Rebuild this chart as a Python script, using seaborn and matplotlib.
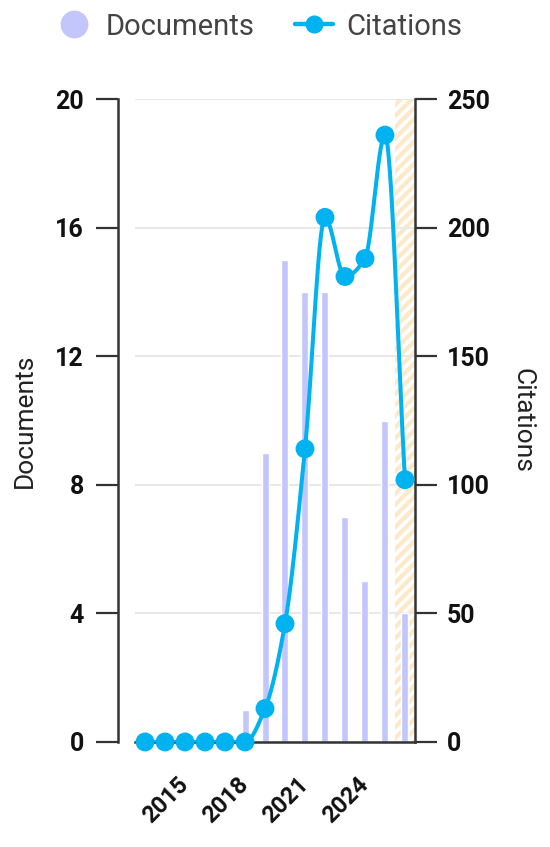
"""Documents and citations per year, bars + smoothed line on twin axes."""

import numpy as np
import pandas as pd
import matplotlib
matplotlib.use('Agg')
import matplotlib.pyplot as plt
from matplotlib.lines import Line2D
import seaborn as sns

years = [2013, 2014, 2015, 2016, 2017, 2018, 2019, 2020, 2021, 2022, 2023, 2024, 2025, 2026]
documents = [0, 0, 0, 0, 0, 1, 9, 15, 14, 14, 7, 5, 10, 4]
citations = [0, 0, 0, 0, 0, 0, 13, 46, 114, 204, 181, 188, 236, 102]
xtick_years = [2015, 2018, 2021, 2024]
doc_ticks = [0, 4, 8, 12, 16, 20]
cit_ticks = [0, 50, 100, 150, 200, 250]
partial_year = 2026

BAR_COLOR = '#c3c6fb'
LINE_COLOR = '#00b3f0'
AXIS_COLOR = '#333333'
HATCH_COLOR = '#fde9c8'
TEXT_COLOR = '#111111'


def monotone_curve(x, y, n=30):
    """Monotone cubic (Fritsch-Carlson) path through the points, for drawing."""
    x = np.asarray(x, float)
    y = np.asarray(y, float)
    h = np.diff(x)
    d = np.diff(y) / h
    m = np.zeros_like(y)
    m[0], m[-1] = d[0], d[-1]
    for i in range(1, len(y) - 1):
        if d[i - 1] * d[i] > 0:
            m[i] = 2 / (1 / d[i - 1] + 1 / d[i])
    xs, ys = [], []
    for i in range(len(x) - 1):
        t = np.linspace(0, 1, n)
        h00 = 2 * t**3 - 3 * t**2 + 1
        h10 = t**3 - 2 * t**2 + t
        h01 = -2 * t**3 + 3 * t**2
        h11 = t**3 - t**2
        xs.append(x[i] + t * h[i])
        ys.append(h00 * y[i] + h10 * h[i] * m[i] + h01 * y[i + 1] + h11 * h[i] * m[i + 1])
    return np.concatenate(xs), np.concatenate(ys)


df = pd.DataFrame({'year': years, 'documents': documents, 'citations': citations})

sns.set_style('white')
plt.rcParams['font.family'] = ['Roboto', 'DejaVu Sans']
plt.rcParams['hatch.linewidth'] = 3.0
plt.rcParams['hatch.color'] = HATCH_COLOR

fig = plt.figure(figsize=(5.5, 8.47), dpi=100)
ax = fig.add_axes([0.2455, 0.124, 0.509, 0.759])
ax2 = ax.twinx()

# spines first: moving a spine resets the tick labels
for side in ['top', 'right']:
    ax.spines[side].set_visible(False)
ax.spines['left'].set_position(('outward', 12))
ax.spines['left'].set_color(AXIS_COLOR)
ax.spines['left'].set_linewidth(1.8)
ax.spines['bottom'].set_color(AXIS_COLOR)
ax.spines['bottom'].set_linewidth(1.8)
for side in ['top', 'left', 'bottom']:
    ax2.spines[side].set_visible(False)
ax2.spines['right'].set_color(AXIS_COLOR)
ax2.spines['right'].set_linewidth(1.8)

# current (incomplete) year shading
ax.axvspan(partial_year - 0.5, partial_year + 0.5, facecolor='none',
           hatch='///', edgecolor=HATCH_COLOR, linewidth=0, zorder=0)

sns.barplot(data=df, x='year', y='documents', native_scale=True, width=0.35,
            color=BAR_COLOR, saturation=1, ax=ax, zorder=2)

cx, cy = monotone_curve(years, citations)
ax2.plot(cx, cy, color=LINE_COLOR, linewidth=2.9, zorder=3)
sns.scatterplot(data=df, x='year', y='citations', color=LINE_COLOR, s=185,
                edgecolor='none', ax=ax2, zorder=4, clip_on=False)

ax.set_xlim(years[0] - 0.5, years[-1] + 0.5)
ax.set_ylim(0, 20)
ax2.set_ylim(0, 250)
ax.yaxis.grid(True, color='#e8e8e8', linewidth=1.5, zorder=0)
ax.set_axisbelow(True)

ax.tick_params(axis='x', length=0, pad=28, labelcolor=TEXT_COLOR)
ax.tick_params(axis='y', length=16, width=1.6, color=AXIS_COLOR, pad=9,
               labelsize=18, labelcolor=TEXT_COLOR)
ax2.tick_params(axis='y', length=16, width=1.6, color=AXIS_COLOR, pad=7,
                labelsize=18, labelcolor=TEXT_COLOR)
ax.set_xticks(xtick_years, labels=[str(y) for y in xtick_years], rotation=45,
              ha='right', va='center', rotation_mode='anchor', fontsize=17,
              fontweight='bold')
ax.set_yticks(doc_ticks, labels=[str(t) for t in doc_ticks],
              fontweight='bold', fontsize=18)
ax2.set_yticks(cit_ticks, labels=[str(t) for t in cit_ticks],
               fontweight='bold', fontsize=18)

ax.set_xlabel('')
ax2.set_xlabel('')
ax.set_ylabel('Documents', fontsize=19, color='#222222', labelpad=13)
ax2.set_ylabel('Citations', fontsize=19, color='#222222', rotation=270,
               labelpad=32)

handles = [
    Line2D([], [], linestyle='none', marker='o', markersize=20,
           markerfacecolor=BAR_COLOR, markeredgecolor='none'),
    Line2D([], [], color=LINE_COLOR, linewidth=3.2, marker='o', markersize=12),
]
fig.legend(handles, ['Documents', 'Citations'], loc='upper center',
           bbox_to_anchor=(0.47, 1.016), ncol=2, frameon=False, fontsize=21,
           handlelength=1.3, columnspacing=1.4, handletextpad=0.45,
           labelcolor='#444444')

fig.savefig('out.png', dpi=100)
